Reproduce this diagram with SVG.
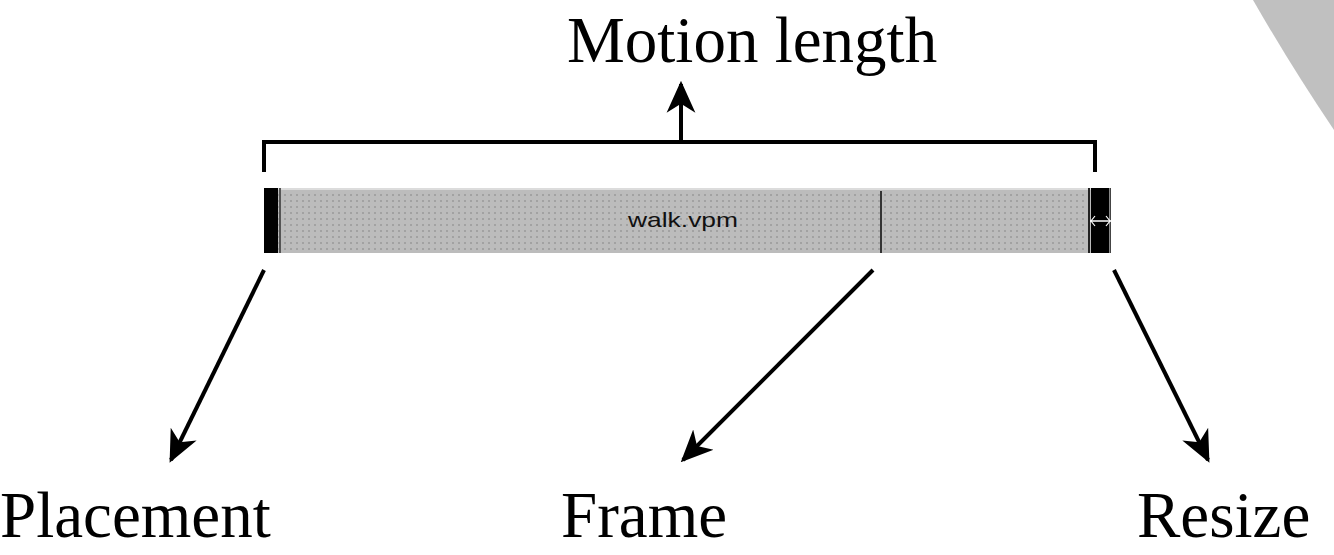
<svg xmlns="http://www.w3.org/2000/svg" width="1334" height="555" viewBox="0 0 1334 555">
  <defs>
    <pattern id="dots" width="6" height="6" patternUnits="userSpaceOnUse">
      <rect width="6" height="6" fill="#bcbcbc"/>
      <rect x="2" y="2" width="2" height="2" fill="#a2a2a2"/>
    </pattern>
    <marker id="head" viewBox="0 0 10 10" refX="9" refY="5" markerWidth="8" markerHeight="8" markerUnits="strokeWidth" orient="auto">
      <path d="M0,0.5 L10,5 L0,9.5 L2.8,5 Z" fill="#000"/>
    </marker>
    <style>
      .label { font-family: "Liberation Serif", "Times New Roman", serif; font-size: 65px; fill: #000; }
      .conn { stroke: #000; stroke-width: 4; fill: none; }
      .arrow { stroke: #000; stroke-width: 4; fill: none; marker-end: url(#head); }
    </style>
  </defs>

  <rect width="1334" height="555" fill="#fff"/>
  <!-- background swoosh at top right -->
  <path d="M1253,0 Q1292,68 1334,130 L1334,0 Z" fill="#c0c0c0"/>

  <!-- motion clip bar -->
  <g id="clip">
    <rect x="264" y="188" width="847" height="65" fill="url(#dots)"/>
    <rect x="264" y="188" width="847" height="2" fill="#dcdcdc"/>
    <rect x="264" y="188" width="14" height="65" fill="#000"/>
    <rect x="279" y="188" width="2" height="65" fill="#555"/>
    <line x1="881" y1="191" x2="881" y2="253" stroke="#333" stroke-width="2"/>
    <rect x="1088" y="188" width="2" height="65" fill="#222"/>
    <rect x="1091" y="188" width="20" height="65" fill="#000"/>
    <rect x="1109" y="188" width="1.5" height="65" fill="#888"/>
    <!-- resize cursor -->
    <line x1="1090" y1="221" x2="1111" y2="221" stroke="#fff" stroke-width="1.5"/>
    <path d="M1095,216 L1091,221 L1095,226 M1106,216 L1110,221 L1106,226" stroke="#fff" stroke-width="1.2" fill="none"/>
    <text x="628" y="227" textLength="110" lengthAdjust="spacingAndGlyphs" font-family="Liberation Sans, Arial, sans-serif" font-size="21" fill="#111">walk.vpm</text>
  </g>

  <g id="labels">
    <g id="motion-length"><text class="label" x="567" y="62">Motion length</text></g>
    <g id="placement"><text class="label" x="0" y="537">Placement</text></g>
    <g id="frame"><text class="label" x="561" y="537">Frame</text></g>
    <g id="resize"><text class="label" x="1137" y="537">Resize</text></g>
  </g>

  <g id="connectors">
    <!-- length bracket -->
    <path class="conn" d="M264,172 V142 H1095 V172"/>
    <line class="arrow" x1="681" y1="142" x2="681" y2="84"/>
    <line class="arrow" x1="264" y1="270" x2="171" y2="460"/>
    <line class="arrow" x1="873" y1="270" x2="683" y2="460"/>
    <line class="arrow" x1="1114" y1="270" x2="1208" y2="460"/>
  </g>
</svg>
